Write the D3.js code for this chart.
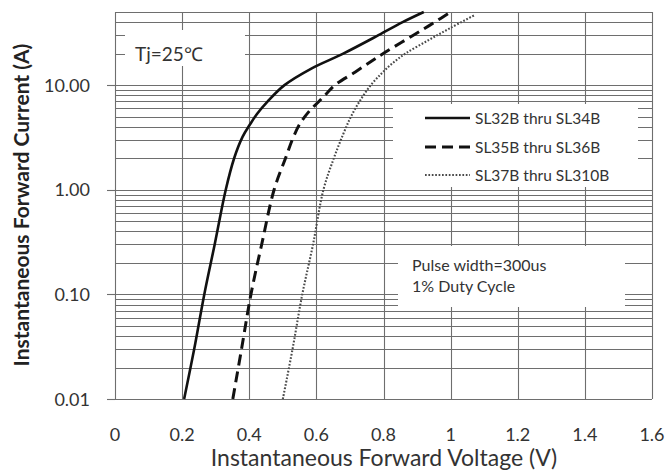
<!DOCTYPE html>
<html>
<head>
<meta charset="utf-8">
<script src="https://cdn.jsdelivr.net/npm/d3@7"></script>
<style>
  html, body { margin: 0; padding: 0; background: #fff; }
  svg { display: block; font-family: Lato, "Open Sans", sans-serif; }
</style>
</head>
<body>
<svg id="chart" width="667" height="470"></svg>
<script>
// ---- data ----
const xTicks = [0, 0.2, 0.4, 0.6, 0.8, 1.0, 1.2, 1.4, 1.6];
const xTickLabels = ["0", "0.2", "0.4", "0.6", "0.8", "1", "1.2", "1.4", "1.6"];
const yTicks = [0.01, 0.1, 1, 10];
const yTickLabels = ["0.01", "0.10", "1.00", "10.00"];
const seriesNames = ["SL32B thru SL34B", "SL35B thru SL36B", "SL37B thru SL310B"];
// [voltage (V), current (A)]
const seriesSL32_34 = [[0.206,0.01],[0.236,0.03],[0.266,0.1],[0.297,0.3],[0.330,1.0],[0.355,2.0],[0.38,3.2],[0.402,4.2],[0.423,5.3],[0.455,7.0],[0.505,10],[0.585,14.4],[0.68,20],[0.785,30],[0.857,40],[0.92,50]];
const seriesSL35_36 = [[0.351,0.01],[0.377,0.03],[0.405,0.1],[0.437,0.3],[0.474,1.0],[0.508,2.0],[0.53,3.1],[0.551,4.27],[0.58,5.7],[0.606,6.9],[0.632,8.4],[0.655,10],[0.715,13.3],[0.765,17],[0.805,20.6],[0.895,30.8],[0.95,39.5],[1.0,50]];
const seriesSL37_310 = [[0.50,0.01],[0.529,0.03],[0.558,0.1],[0.59,0.3],[0.621,1.0],[0.652,2.0],[0.68,3.4],[0.703,5.0],[0.73,7.1],[0.762,10],[0.795,13],[0.825,16],[0.865,20],[0.935,27],[0.998,35],[1.073,47]];
const annotTj = "Tj=25℃";
const annotPulse = ["Pulse width=300us", "1% Duty Cycle"];
const xTitle = "Instantaneous Forward Voltage (V)";
const yTitle = "Instantaneous Forward Current (A)";

// ---- layout ----
const svg = d3.select("#chart");
const L = 115, R = 652, T = 12, B = 399;
const x = d3.scaleLinear().domain([0, 1.6]).range([L, R]);
const y = d3.scaleLog().domain([0.01, 50]).range([B, T]);
const gridColor = "#6e6e6e";

// minor/major horizontal grid values
const hVals = [];
[0.01, 0.1, 1, 10].forEach(d => { for (let m = 1; m <= 9; m++) { const v = d * m; if (v <= 50.0001) hVals.push(v); } });
hVals.push(50);

const grid = svg.append("g");
grid.selectAll("line.h").data(hVals).join("line")
  .attr("x1", L).attr("x2", R)
  .attr("y1", d => Math.round(y(d)) + 0.5).attr("y2", d => Math.round(y(d)) + 0.5)
  .attr("stroke", gridColor).attr("stroke-width", 1.1);
grid.selectAll("line.v").data(xTicks).join("line")
  .attr("x1", d => Math.round(x(d)) + 0.5).attr("x2", d => Math.round(x(d)) + 0.5)
  .attr("y1", T).attr("y2", B)
  .attr("stroke", gridColor).attr("stroke-width", 1.1);
// decade tick stubs on left
grid.selectAll("line.t").data(yTicks).join("line")
  .attr("x1", L - 8).attr("x2", L)
  .attr("y1", d => Math.round(y(d)) + 0.5).attr("y2", d => Math.round(y(d)) + 0.5)
  .attr("stroke", gridColor).attr("stroke-width", 1.1);

// white annotation boxes (cover grid)
const boxes = [
  {x0: 125, x1: 245, y0: 30, y1: 66},
  {x0: 393, x1: 638, y0: 104, y1: 187},
  {x0: 398, x1: 625, y0: 246, y1: 307}
];
svg.append("g").selectAll("rect").data(boxes).join("rect")
  .attr("x", d => d.x0).attr("y", d => d.y0)
  .attr("width", d => d.x1 - d.x0).attr("height", d => d.y1 - d.y0)
  .attr("fill", "#fff");

// ---- curves ----
const line = d3.line().x(d => x(d[0])).y(d => y(d[1])).curve(d3.curveCatmullRom.alpha(0.5));
const styles = [
  {data: seriesSL32_34, dash: null, width: 2.6, color: "#111"},
  {data: seriesSL35_36, dash: "11,6", width: 3, color: "#111"},
  {data: seriesSL37_310, dash: "1.7,1.7", width: 2.1, color: "#4a4a4a"}
];
const cg = svg.append("g");
styles.forEach(s => {
  cg.append("path").datum(s.data).attr("d", line)
    .attr("fill", "none").attr("stroke", s.color)
    .attr("stroke-width", s.width)
    .attr("stroke-dasharray", s.dash);
});

// ---- legend ----
const legY = [118, 147, 175];
const lg = svg.append("g");
styles.forEach((s, i) => {
  lg.append("line").attr("x1", 425).attr("x2", 470)
    .attr("y1", legY[i]).attr("y2", legY[i])
    .attr("stroke", s.color).attr("stroke-width", s.width)
    .attr("stroke-dasharray", s.dash);
  lg.append("text").attr("x", 475).attr("y", legY[i] + 5.5)
    .attr("font-size", 15.5).attr("fill", "#333").text(seriesNames[i]);
});

// ---- annotations ----
svg.append("text").attr("x", 135).attr("y", 61).attr("font-size", 19).attr("fill", "#333").text(annotTj);
svg.append("g").selectAll("text").data(annotPulse).join("text")
  .attr("x", 412).attr("y", (d, i) => 271 + i * 21)
  .attr("font-size", 16).attr("fill", "#333").text(d => d);

// ---- axis labels ----
svg.append("g").selectAll("text").data(yTicks).join("text")
  .attr("x", 90).attr("y", d => y(d) + 6.5)
  .attr("text-anchor", "end").attr("font-size", 18).attr("fill", "#333")
  .text((d, i) => yTickLabels[i]);
svg.append("g").selectAll("text").data(xTicks).join("text")
  .attr("x", d => x(d)).attr("y", 441)
  .attr("text-anchor", "middle").attr("font-size", 18).attr("fill", "#333")
  .text((d, i) => xTickLabels[i]);

svg.append("text").attr("x", 384).attr("y", 466)
  .attr("text-anchor", "middle").attr("font-size", 23).attr("fill", "#333").text(xTitle);
svg.append("text").attr("transform", "translate(29,205) rotate(-90)")
  .attr("text-anchor", "middle").attr("font-size", 21).attr("font-weight", "bold")
  .attr("fill", "#222").text(yTitle);
</script>
</body>
</html>
